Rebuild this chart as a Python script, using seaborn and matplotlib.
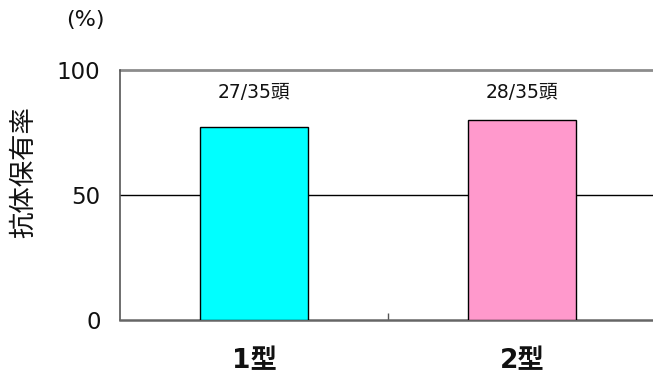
import matplotlib
matplotlib.use("Agg")
import matplotlib.pyplot as plt
import seaborn as sns
import pandas as pd

# Antibody retention by type
categories = ["1型", "2型"]
positive = [27, 28]
tested = [35, 35]
rates = [p / t * 100 for p, t in zip(positive, tested)]
bar_labels = [f"{p}/{t}頭" for p, t in zip(positive, tested)]
bar_colors = ["#00FFFF", "#FF99CC"]
y_ticks = [0, 50, 100]

sns.set_theme(style="white")
plt.rcParams["font.family"] = ["DejaVu Sans", "Noto Sans CJK JP"]

df = pd.DataFrame({"type": categories, "rate": rates})

fig = plt.figure(figsize=(6.53, 3.76), dpi=100)
ax = fig.add_axes([120 / 653, 56 / 376, 536 / 653, 250 / 376])

sns.barplot(data=df, x="type", y="rate", hue="type", palette=bar_colors,
            width=0.40, edgecolor="black", linewidth=1.0, legend=False,
            ax=ax, zorder=3, saturation=1)

ax.set_xlim(-0.5, 1.5)
ax.set_ylim(0, 100)
ax.set_yticks(y_ticks)
ax.set_yticklabels([str(v) for v in y_ticks], fontsize=16.5, color="#111111")

# horizontal reference lines
ax.axhline(50, color="black", lw=1.0, zorder=2)
ax.axhline(100, color="#8c8c8c", lw=2.0, zorder=2, clip_on=False)

for s in ["top", "right"]:
    ax.spines[s].set_visible(False)
ax.spines["left"].set_color("#555555")
ax.spines["left"].set_linewidth(1.2)
ax.spines["bottom"].set_color("#666666")
ax.spines["bottom"].set_linewidth(1.8)

ax.tick_params(axis="y", length=0, pad=14)
ax.tick_params(axis="x", length=0, pad=20)
ax.set_xticks([0.5], minor=True)
ax.tick_params(axis="x", which="minor", direction="in", length=5,
               width=1, color="#555555", bottom=True)
for lbl in ax.get_xticklabels():
    lbl.set_fontsize(19)
    lbl.set_fontweight("bold")
    lbl.set_color("#111111")

ax.set_xlabel("")
ax.set_ylabel("抗体保有率", fontsize=19, color="#111111")
ax.yaxis.set_label_coords(-0.155, 0.59)

for i, txt in enumerate(bar_labels):
    ax.text(i, 91, txt, ha="center", va="center", fontsize=13.5, color="#111111")

fig.text(85 / 653, 1 - 20 / 376, "(%)", ha="center", va="center",
         fontsize=16, color="#111111")

fig.savefig("out.png", dpi=100)
